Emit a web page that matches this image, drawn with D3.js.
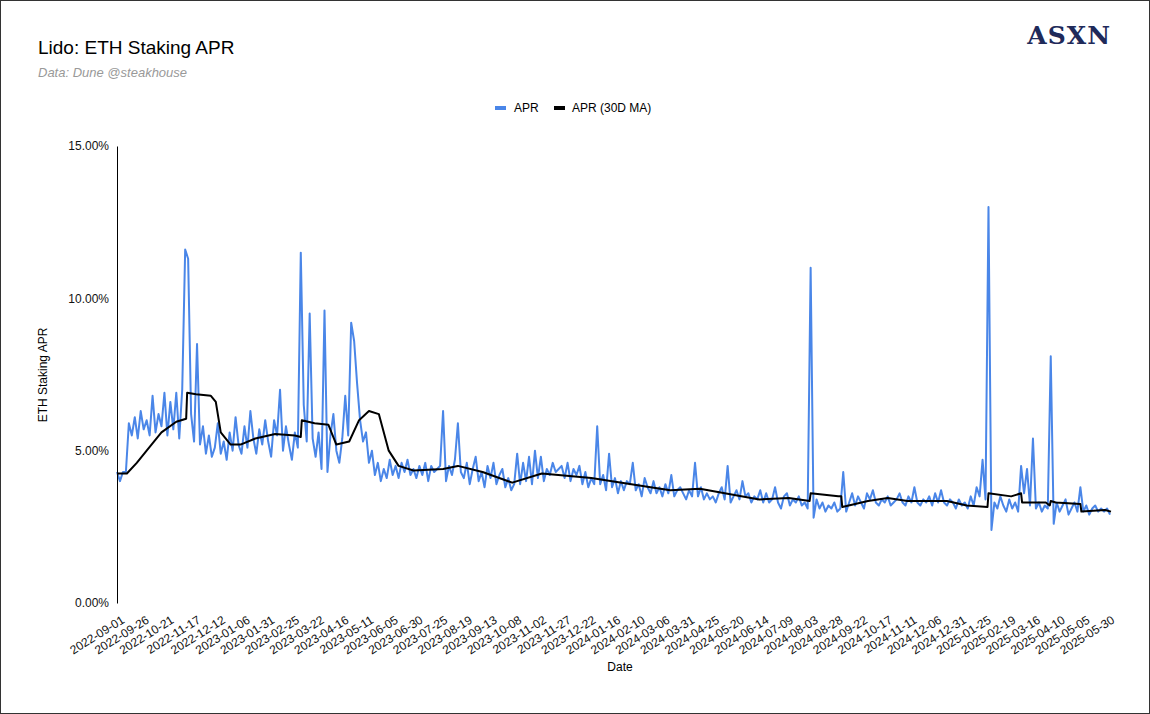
<!DOCTYPE html>
<html><head><meta charset="utf-8">
<script src="https://cdn.jsdelivr.net/npm/d3@7"></script>
<style>body{margin:0;background:#fff}svg{font-family:Arial,"Liberation Sans",sans-serif}</style>
</head><body><svg id="c" width="1150" height="714"></svg>
<script>
const startDate = "2022-09-01";
const stepDays = 3;
const aprValues = [
4.3,4.0,4.3,4.3,
5.9,5.5,6.1,5.4,6.3,5.7,6.0,5.5,6.8,5.6,6.2,5.8,6.9,5.5,6.6,5.7,6.9,
5.4,7.0,11.6,11.3,6.2,5.3,8.5,
5.2,5.8,4.9,5.5,4.8,5.1,5.9,4.9,5.3,4.7,5.6,5.0,6.1,5.2,4.9,5.8,5.1,6.3,5.4,4.9,5.7,5.2,6.0,5.3,4.8,6.0,5.5,7.0,5.0,5.8,5.2,4.7,5.6,5.1,
11.5,6.5,5.3,9.5,5.4,4.8,5.6,4.4,9.6,4.3,5.5,6.2,5.0,4.6,5.4,6.8,5.5,9.2,8.6,7.2,6.0,5.3,
5.6,4.6,5.0,4.2,4.6,4.0,4.4,4.1,4.7,4.2,4.5,4.1,4.6,4.3,4.7,4.2,4.4,4.1,4.5,4.2,4.6,4.0,4.5,4.3,4.4,4.5,6.3,
4.0,4.5,4.2,4.7,5.9,4.3,4.1,4.6,3.9,4.4,4.8,4.0,4.3,3.8,4.5,4.1,4.6,3.9,4.2,4.4,3.8,4.1,3.7,3.9,4.9,3.9,4.6,4.0,4.8,3.9,
5.0,4.1,4.8,4.0,4.4,4.2,4.6,4.3,4.4,4.5,4.1,4.6,4.0,4.4,4.2,4.5,3.9,4.3,3.8,4.1,3.9,5.8,
3.9,4.2,3.7,4.9,3.8,4.1,3.6,4.0,3.7,4.0,3.9,4.6,3.7,3.9,3.5,4.1,3.8,3.6,4.0,3.6,3.8,3.5,3.9,3.6,4.2,3.5,3.7,3.8,3.6,3.4,3.7,3.5,4.6,3.5,3.8,3.4,3.6,3.4,
3.5,3.3,3.6,3.8,3.4,4.5,3.3,3.5,3.7,3.4,4.0,3.5,3.6,3.3,3.5,3.4,3.7,3.3,3.6,3.3,3.4,3.8,3.3,3.1,3.5,3.6,3.2,3.4,3.3,3.5,3.2,3.3,3.1,
11.0,2.8,
3.4,3.1,3.3,3.0,3.2,3.1,3.3,3.0,3.1,
4.3,3.0,
3.3,3.6,3.2,3.5,3.3,3.1,3.6,3.4,3.7,3.3,3.2,3.4,3.3,3.5,3.2,3.3,3.4,3.6,3.3,3.2,3.5,3.3,3.8,3.3,3.2,3.4,3.3,3.5,3.2,3.6,3.3,3.7,3.3,3.2,3.4,3.3,3.1,3.4,3.2,3.3,3.1,3.5,3.2,3.8,3.5,4.7,3.4,
13.0,2.4,
3.3,3.1,3.5,3.2,3.0,3.4,3.1,3.3,3.0,4.5,3.6,4.4,3.2,5.4,3.1,3.3,3.0,3.2,
3.1,8.1,2.6,
3.3,3.0,3.2,3.4,2.9,3.1,3.3,3.0,3.8,3.0,3.2,2.9,3.1,3.2,3.0,3.1,3.0,3.1,2.9
];
const maDays =   [0,10,20,30,45,60,70,71,80,95,100,105,115,125,140,160,180,186,187,200,214,222,235,245,255,265,275,285,300,330,345,370,400,430,480,540,560,590,650,680,701,702,730,733,734,760,780,800,840,860,881,882,905,915,916,940,944,945,950,975,976,1000,1006];
const maValues = [4.25,4.25,4.6,5.0,5.6,5.95,6.05,6.9,6.85,6.8,6.6,5.6,5.2,5.2,5.4,5.55,5.5,5.45,6.0,5.9,5.85,5.2,5.3,6.0,6.3,6.2,5.0,4.5,4.35,4.4,4.5,4.3,3.95,4.25,4.1,3.8,3.7,3.75,3.4,3.45,3.35,3.6,3.5,3.5,3.15,3.35,3.45,3.35,3.35,3.2,3.15,3.6,3.5,3.6,3.3,3.3,3.2,3.35,3.3,3.25,3.0,3.05,3.0];
const yTicks = [0,5,10,15];
const xTickLabels = ["2022-09-01","2022-09-26","2022-10-21","2022-11-17","2022-12-12","2023-01-06","2023-01-31","2023-02-25","2023-03-22","2023-04-16","2023-05-11","2023-06-05","2023-06-30","2023-07-25","2023-08-19","2023-09-13","2023-10-08","2023-11-02","2023-11-27","2023-12-22","2024-01-16","2024-02-10","2024-03-06","2024-03-31","2024-04-25","2024-05-20","2024-06-14","2024-07-09","2024-08-03","2024-08-28","2024-09-22","2024-10-17","2024-11-11","2024-12-06","2024-12-31","2025-01-25","2025-02-19","2025-03-16","2025-04-10","2025-05-05","2025-05-30"];

const svg = d3.select("#c");
const W=1150,H=714;
svg.append("rect").attr("x",0.5).attr("y",0.5).attr("width",W-1).attr("height",H-1).attr("fill","#fff").attr("stroke","#333");
svg.append("text").attr("x",38).attr("y",54).attr("font-size",19).text("Lido: ETH Staking APR");
svg.append("text").attr("x",38).attr("y",77).attr("font-size",13).attr("font-style","italic").attr("fill","#999").text("Data: Dune @steakhouse");
svg.append("text").attr("x",1111).attr("y",44).attr("text-anchor","end").attr("font-family","'DejaVu Serif','Liberation Serif',serif").attr("font-weight","bold").attr("font-size",25).attr("fill","#1f2a5a").attr("letter-spacing",1).text("ASXN");

const parse=d3.utcParse("%Y-%m-%d");
const t0=parse(startDate);
const addDays=(n)=>d3.utcDay.offset(t0,n);
const x=d3.scaleUtc().domain([t0,addDays(1007)]).range([117,1112]);
const y=d3.scaleLinear().domain([0,15]).range([603,146]);

const apr=aprValues.map((v,i)=>({d:addDays(i*stepDays),v}));
const ma=maDays.map((dd,i)=>({d:addDays(dd),v:maValues[i]}));
const line=d3.line().x(p=>x(p.d)).y(p=>y(p.v));
svg.append("path").datum(apr).attr("d",line).attr("fill","none").attr("stroke","#4a86e8").attr("stroke-width",2).attr("stroke-linejoin","round");
svg.append("path").datum(ma).attr("d",line).attr("fill","none").attr("stroke","#000").attr("stroke-width",2).attr("stroke-linejoin","round");

const ya=svg.append("g").attr("transform","translate(117,0)").call(d3.axisLeft(y).tickValues(yTicks).tickSize(0).tickPadding(8).tickFormat(v=>v.toFixed(2)+"%"));
ya.select(".domain").attr("stroke","#000");
ya.selectAll("text").attr("font-size",12).attr("font-family","Arial,'Liberation Sans',sans-serif").attr("fill","#111");

const xt=xTickLabels.map(parse);
const xa=svg.append("g").attr("transform","translate(0,603)").call(d3.axisBottom(x).tickValues(xt).tickSize(0).tickFormat(d3.utcFormat("%Y-%m-%d")));
xa.select(".domain").remove();
xa.selectAll("text").attr("font-size",12).attr("font-family","Arial,'Liberation Sans',sans-serif").attr("fill","#111")
  .attr("text-anchor","end").attr("dy","0.35em").attr("transform","translate(4,13) rotate(-32)");

svg.append("text").attr("x",620).attr("y",671).attr("text-anchor","middle").attr("font-size",12).text("Date");
svg.append("text").attr("transform","translate(47,375) rotate(-90)").attr("text-anchor","middle").attr("font-size",12).text("ETH Staking APR");

const lg=svg.append("g").attr("font-size",12);
lg.append("rect").attr("x",495).attr("y",106).attr("width",11).attr("height",4).attr("fill","#4a86e8");
lg.append("text").attr("x",514).attr("y",112).text("APR");
lg.append("rect").attr("x",554).attr("y",106).attr("width",11).attr("height",4).attr("fill","#000");
lg.append("text").attr("x",572).attr("y",112).text("APR (30D MA)");
</script></body></html>
